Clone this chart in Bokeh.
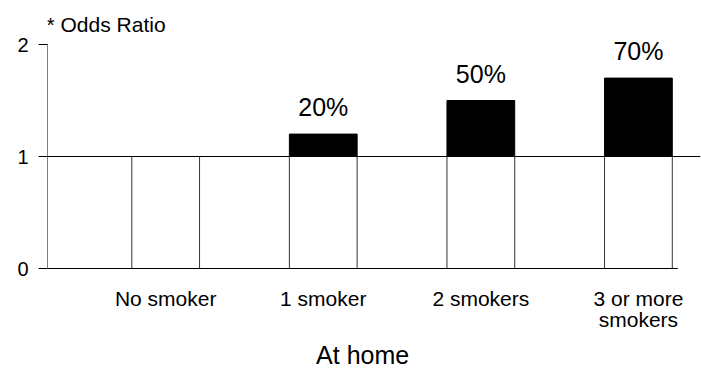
from bokeh.plotting import figure
from bokeh.models import FixedTicker, Span, ColumnDataSource
from bokeh.core.properties import value
from bokeh.embed import file_html
from bokeh.resources import INLINE

# Odds ratios by number of smokers at home
categories = ["No smoker", "1 smoker", "2 smokers", "3 or more\nsmokers"]
odds_ratio = [1.0, 1.2, 1.5, 1.7]
y_ticks = [0, 1, 2]
group_label = "At home"
y_caption = "* Odds Ratio"

FONT = "Liberation Sans"
X_START = 0.25
X_END = 4.25

xs = [i + 1 for i in range(len(categories))]
base_top = [min(v, 1.0) for v in odds_ratio]
excess = [(x, v) for x, v in zip(xs, odds_ratio) if v > 1.0]
pct_labels = [f"{round((v - 1.0) * 100)}%" for _, v in excess]

# the plot area fills the canvas right of the y axis; captions are drawn inside it
p = figure(
    width=701, height=370,
    x_range=(X_START, 4.394), y_range=(-0.9107, 2.3929),
    x_axis_location=None,
    output_backend="svg", toolbar_location=None,
    min_border_left=47, min_border_right=1,
    min_border_top=0, min_border_bottom=0,
)
p.outline_line_color = None
p.background_fill_color = "white"
p.border_fill_color = "white"
p.xgrid.visible = False
p.ygrid.visible = False

# white part of each bar, up to the reference ratio of 1
p.vbar(x=xs, bottom=0, top=base_top, width=0.43,
       fill_color="white", line_color="#333333", line_width=1)

# black part: increase above 1
src = ColumnDataSource(dict(
    x=[e[0] for e in excess],
    top=[e[1] for e in excess],
    label=pct_labels,
))
p.vbar(x="x", bottom=1, top="top", width=0.43, source=src,
       fill_color="black", line_color="black", line_width=1)

# reference line at odds ratio 1
p.add_layout(Span(location=1, dimension="width", line_color="black", line_width=1))

# baseline under the categories and the vertical axis line from 0 to 2
p.segment(x0=[X_START], y0=[0], x1=[X_END], y1=[0], line_color="black", line_width=1)
p.segment(x0=[X_START], y0=[y_ticks[0]], x1=[X_START], y1=[y_ticks[-1]],
          line_color="black", line_width=1)

# percentage labels above the bars
p.text(x="x", y="top", text="label", source=src, y_offset=-27,
       text_align="center", text_baseline="alphabetic",
       text_font=value(FONT), text_font_size="25px", text_color="black")

# caption at the top of the value axis
p.text(x=[X_START], y=[y_ticks[-1]], text=[y_caption], x_offset=-1, y_offset=-20,
       text_align="left", text_baseline="alphabetic",
       text_font=value(FONT), text_font_size="21px", text_color="black")

# category names under the bars
p.text(x=xs, y=[0] * len(xs), text=categories, y_offset=18,
       text_align="center", text_baseline="top", text_line_height=0.95,
       text_font=value(FONT), text_font_size="21px", text_color="black")

# group caption centred under the baseline
p.text(x=[(X_START + X_END) / 2], y=[0], text=[group_label], y_offset=86,
       text_align="center", text_baseline="alphabetic",
       text_font=value(FONT), text_font_size="25px", text_color="black")

# y axis: ticks and numbers only, its line is drawn above
p.yaxis.ticker = FixedTicker(ticks=y_ticks)
p.yaxis.minor_tick_line_color = None
p.yaxis.major_tick_in = 0
p.yaxis.major_tick_out = 9
p.yaxis.major_label_standoff = 10
p.yaxis.axis_line_color = None
p.yaxis.major_tick_line_color = "black"
p.yaxis.major_label_text_font = FONT
p.yaxis.major_label_text_font_size = "20px"
p.yaxis.major_label_text_color = "black"

open("out.html", "w").write(file_html(p, INLINE))
